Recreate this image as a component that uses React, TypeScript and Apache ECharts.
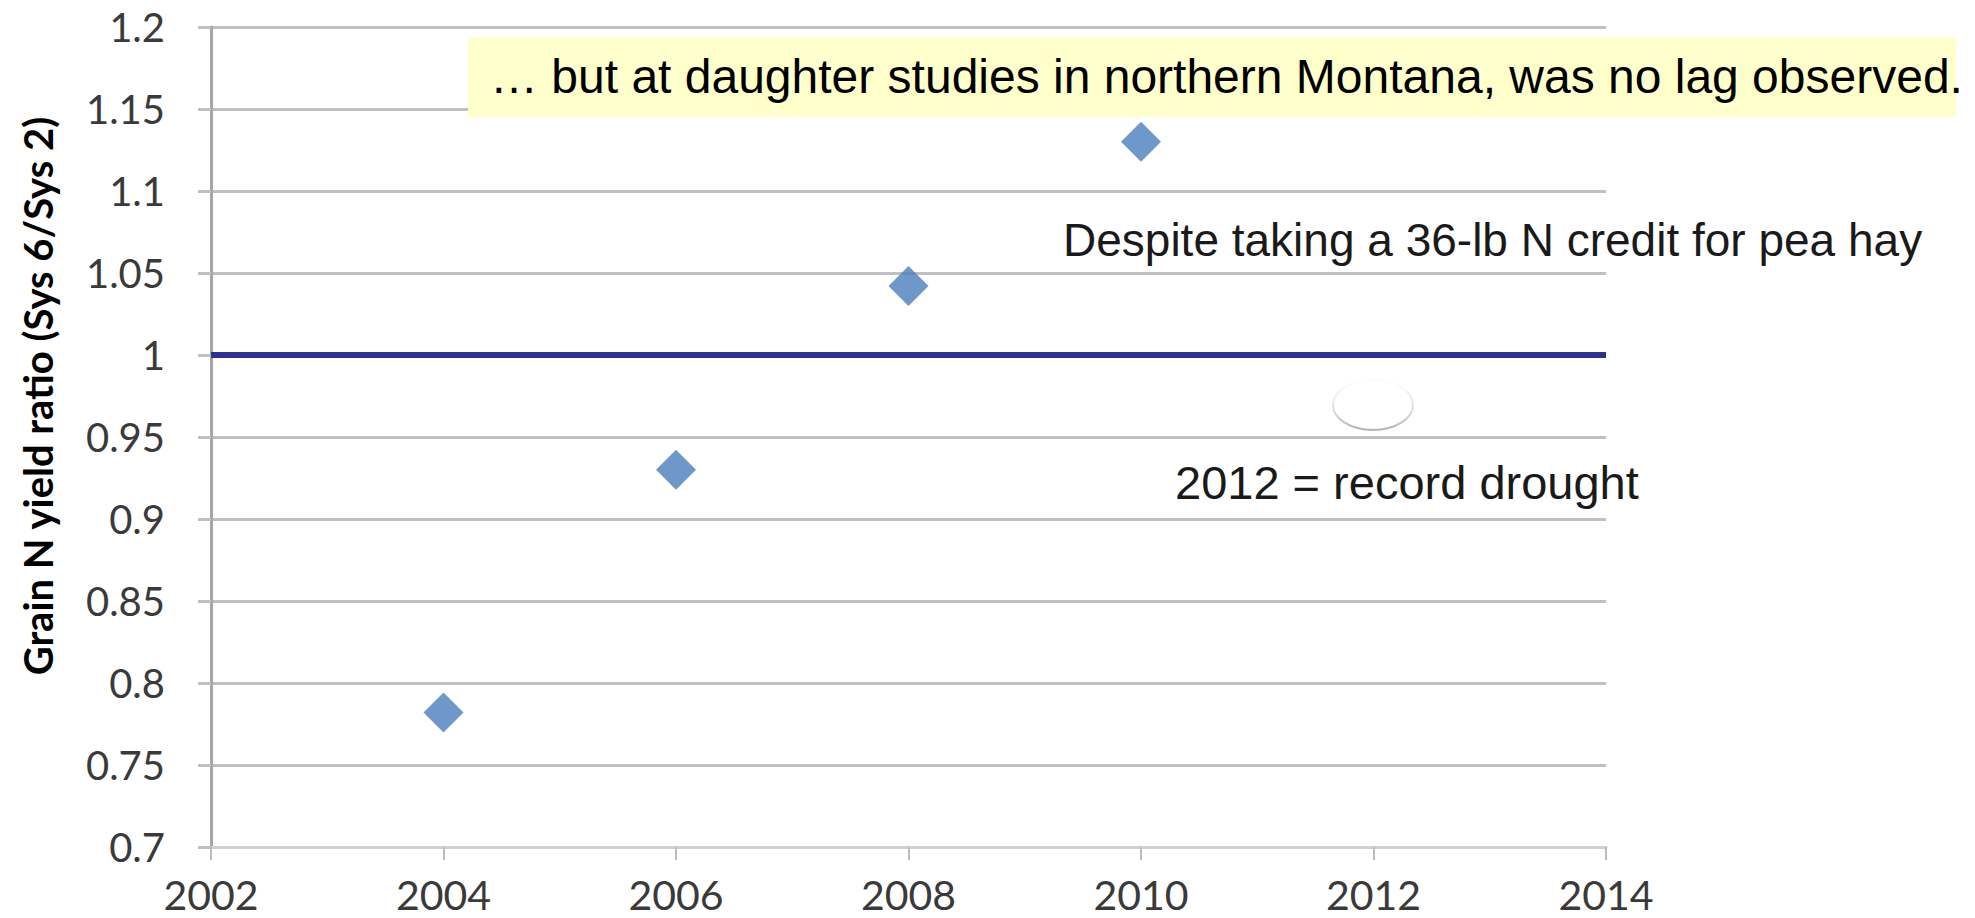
import React, { useEffect, useRef } from "react";
import * as echarts from "echarts";

const years = [2004, 2006, 2008, 2010];
const ratios = [0.782, 0.93, 1.042, 1.13];
const xTickLabels = ["2002", "2004", "2006", "2008", "2010", "2012", "2014"];
const yTickLabels = ["0.7", "0.75", "0.8", "0.85", "0.9", "0.95", "1", "1.05", "1.1", "1.15", "1.2"];
const referenceRatio = 1;
const yAxisTitle = "Grain N yield ratio (Sys 6/Sys 2)";
const calloutText = "… but at daughter studies in northern Montana, was no lag observed.";
const noteCredit = "Despite taking a 36-lb N credit for pea hay";
const noteDrought = "2012 = record drought";

export default function App() {
  const ref = useRef<HTMLDivElement>(null);
  useEffect(() => {
    if (!ref.current) return;
    const chart = echarts.init(ref.current, null, { renderer: "svg" });
    const points = years.map((y, i) => [y, ratios[i]]);
    chart.setOption({
      animation: false,
      backgroundColor: "#ffffff",
      grid: { left: 211, top: 27, right: 369, bottom: 71, containLabel: false, outerBoundsMode: "none" },
      xAxis: {
        type: "value",
        min: 2002,
        max: 2014,
        interval: 2,
        splitLine: { show: false },
        axisLine: { show: true, lineStyle: { color: "#D0D0D0", width: 3 } },
        axisTick: { show: true, length: 13, lineStyle: { color: "#BDBDBD", width: 2 } },
        axisLabel: {
          margin: 27,
          fontFamily: "Lato",
          fontSize: 41,
          color: "#3a3a3a",
          formatter: (v: number) => xTickLabels[Math.round((v - 2002) / 2)] ?? String(v),
        },
      },
      yAxis: {
        type: "value",
        min: 0.7,
        max: 1.2,
        interval: 0.05,
        axisLine: { show: true, lineStyle: { color: "#A6A6A6", width: 3 } },
        axisTick: { show: true, length: 13, lineStyle: { color: "#C0C0C0", width: 3 } },
        splitLine: { show: true, lineStyle: { color: "#C0C0C0", width: 3 } },
        axisLabel: {
          margin: 46,
          fontFamily: "Lato",
          fontSize: 40,
          color: "#3a3a3a",
          formatter: (v: number) => yTickLabels[Math.round((v - 0.7) / 0.05)] ?? String(v),
        },
      },
      series: [
        {
          type: "scatter",
          data: points,
          symbol: "diamond",
          symbolSize: [40, 40],
          itemStyle: { color: "#4A7EBB" },
          z: 5,
          markLine: {
            silent: true,
            symbol: ["none", "none"],
            label: { show: false },
            lineStyle: { color: "#2E3192", width: 6, type: "solid" },
            data: [{ yAxis: referenceRatio }],
          },
        },
      ],
      graphic: [
        {
          type: "text",
          x: 38,
          y: 396,
          rotation: Math.PI / 2,
          style: {
            text: yAxisTitle,
            fontFamily: "Lato",
            fontWeight: "bold",
            fontSize: 40,
            fill: "#000000",
            align: "center",
            verticalAlign: "middle",
          },
        },
        {
          type: "rect",
          shape: { x: 468, y: 37, width: 1488, height: 80 },
          style: { fill: "#FFFFCC" },
          z: 10,
        },
        {
          type: "text",
          x: 490,
          y: 76,
          z: 11,
          style: {
            text: calloutText,
            fontFamily: "Liberation Sans",
            fontSize: 48,
            fill: "#000000",
            align: "left",
            verticalAlign: "middle",
          },
        },
        {
          type: "text",
          x: 1063,
          y: 240,
          z: 11,
          style: {
            text: noteCredit,
            fontFamily: "Liberation Sans",
            fontSize: 46,
            fill: "#1a1a1a",
            align: "left",
            verticalAlign: "middle",
          },
        },
        {
          type: "ellipse",
          shape: { cx: 1373, cy: 405, rx: 40, ry: 25 },
          z: 11,
          style: {
            fill: "#ffffff",
            lineWidth: 2,
            stroke: new echarts.graphic.LinearGradient(0, 0, 0, 1, [
              { offset: 0, color: "rgba(230,230,230,0.1)" },
              { offset: 1, color: "rgba(170,170,170,0.9)" },
            ]),
          },
        },
        {
          type: "text",
          x: 1175,
          y: 482,
          z: 11,
          style: {
            text: noteDrought,
            fontFamily: "Liberation Sans",
            fontSize: 47,
            fill: "#1a1a1a",
            align: "left",
            verticalAlign: "middle",
          },
        },
      ],
    });
    return () => chart.dispose();
  }, []);
  return (
    <div
      ref={ref}
      style={{ position: "fixed", left: 0, top: 0, width: 1975, height: 918, background: "#fff" }}
    />
  );
}
